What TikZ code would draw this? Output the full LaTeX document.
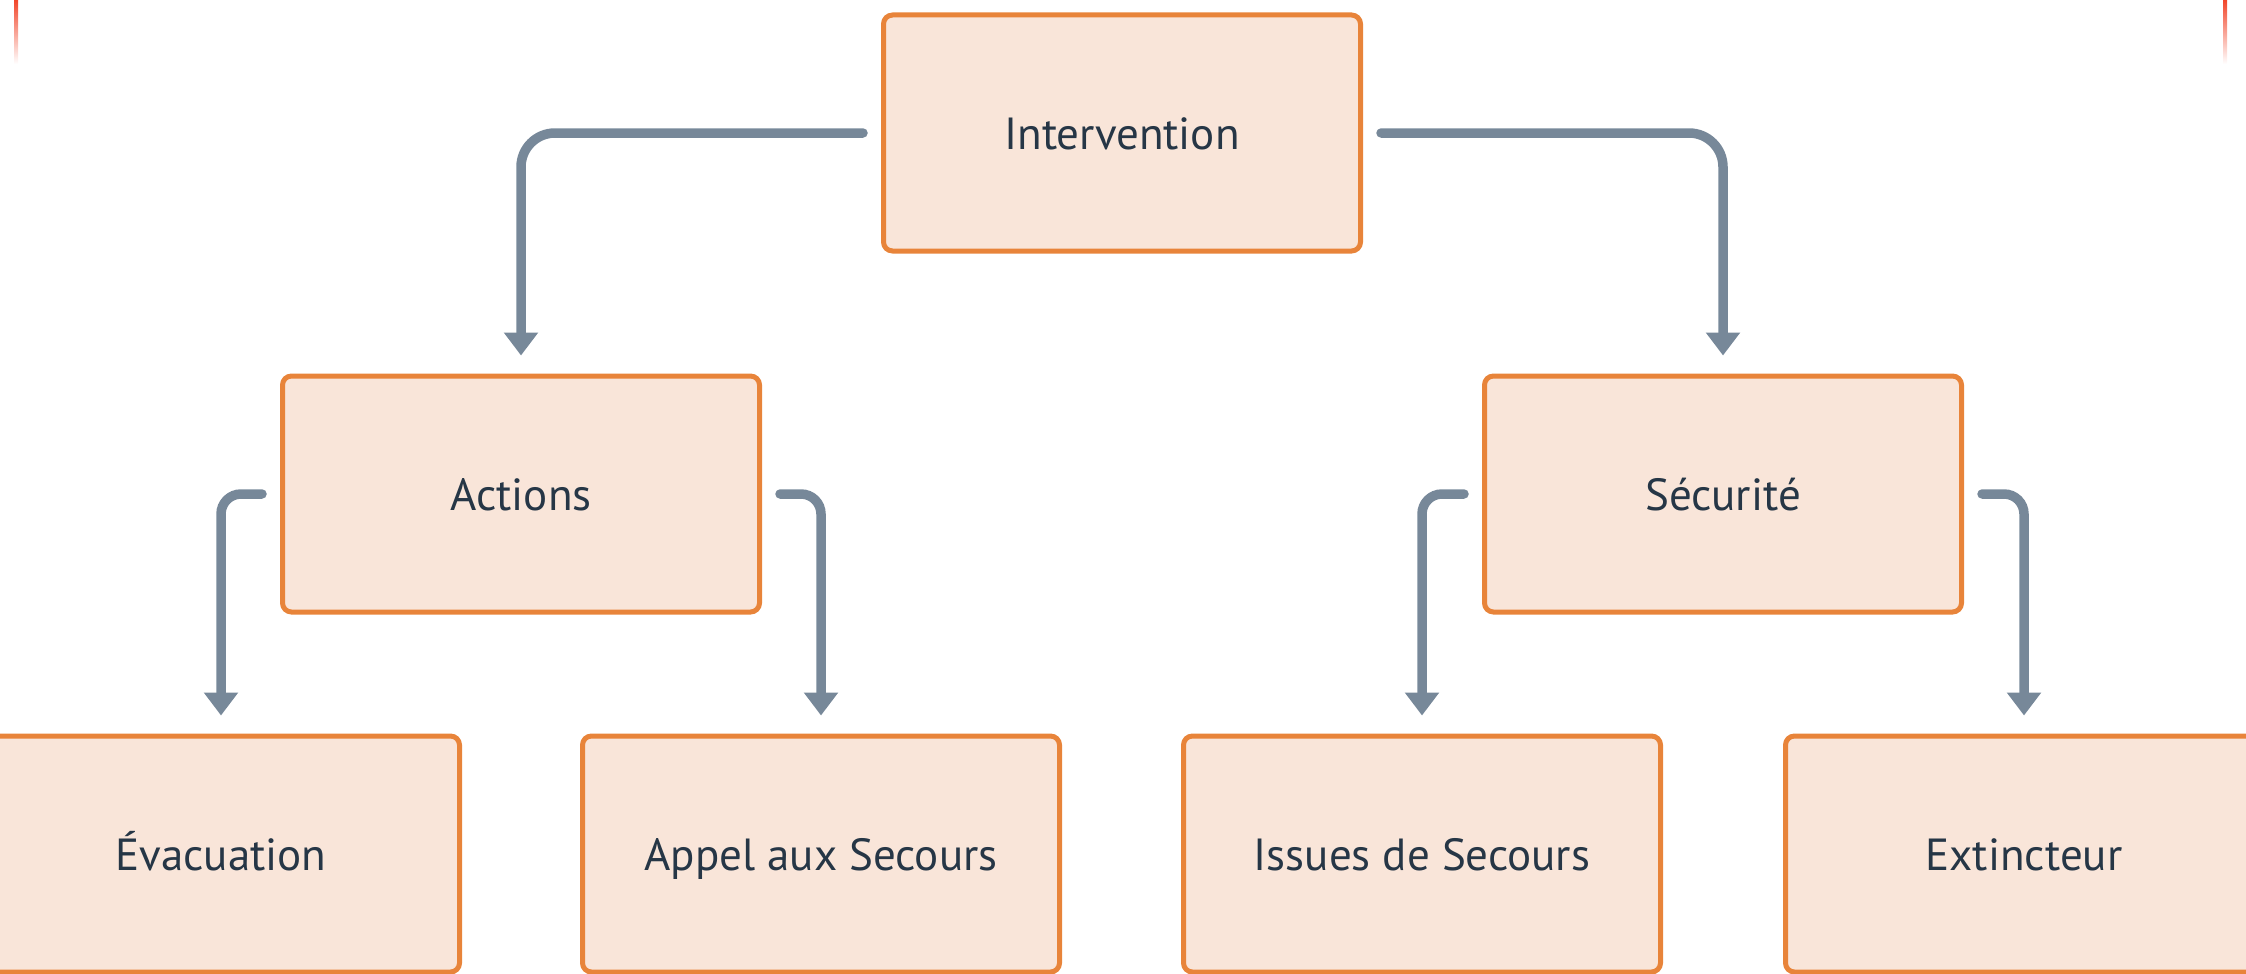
\documentclass[tikz,border=0pt]{standalone}
\usepackage{fontspec}
\setmainfont{PT Sans}
\usetikzlibrary{arrows.meta}
\definecolor{boxfill}{HTML}{F9E5D9}
\definecolor{boxline}{HTML}{E8843A}
\definecolor{linkgray}{HTML}{778899}
\definecolor{labelink}{HTML}{263646}
\definecolor{edgered}{HTML}{F2462A}
\begin{document}
\begin{tikzpicture}[x=1pt,y=-1pt,
  box/.style={draw=boxline, fill=boxfill, line width=5pt, rounded corners=9pt,
    minimum width=477pt, minimum height=236pt, inner sep=0pt,
    text height=32pt, text depth=0pt,
    text=labelink, font=\fontsize{45}{54}\selectfont},
  link/.style={draw=linkgray, line width=9.5pt, line cap=round,
    -{Triangle[width=33pt,length=23pt]}, rounded corners=34pt},
  sublink/.style={link, rounded corners=20pt}]
\useasboundingbox (0,0) rectangle (2246,974);

% thin red marks at the upper edges
\shade[top color=edgered, bottom color=white] (14,0) rectangle (18,64);
\shade[top color=edgered, bottom color=white] (2223,0) rectangle (2227,64);

% boxes
\node[box] (int) at (1122,133) {Intervention};
\node[box] (act) at (521,494) {Actions};
\node[box] (secu) at (1723,494) {Sécurité};
\node[box] (evac) at (221,854) {Évacuation};
\node[box] (appel) at (821,854) {Appel aux Secours};
\node[box] (issues) at (1422,854) {Issues de Secours};
\node[box] (ext) at (2024,854) {Extincteur};

% connectors
\draw[link] ([xshift=-18pt]int.west) -| ([yshift=18pt]act.north);
\draw[link] ([xshift=18pt]int.east) -| ([yshift=18pt]secu.north);
\draw[sublink] ([xshift=-18pt]act.west) -| ([yshift=18pt]evac.north);
\draw[sublink] ([xshift=18pt]act.east) -| ([yshift=18pt]appel.north);
\draw[sublink] ([xshift=-18pt]secu.west) -| ([yshift=18pt]issues.north);
\draw[sublink] ([xshift=18pt]secu.east) -| ([yshift=18pt]ext.north);
\end{tikzpicture}
\end{document}
